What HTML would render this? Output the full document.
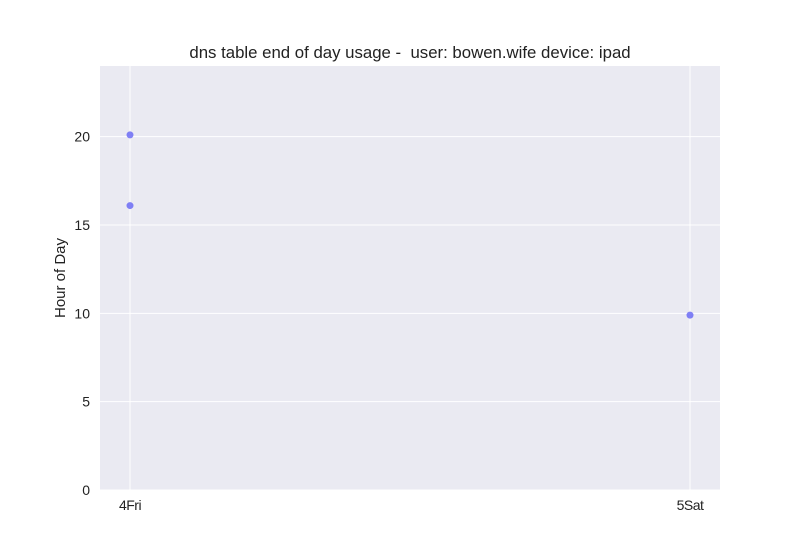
<!DOCTYPE html>
<html><head><meta charset="utf-8"><style>
body{margin:0;background:#fff;}
svg{display:block;font-family:"Liberation Sans",sans-serif;}
text{white-space:pre;}
</style></head><body>
<svg id="chart" width="800" height="550">
<rect x="0" y="0" width="800" height="550" fill="#fff"/>
<rect x="100" y="66" width="620" height="424" fill="#eaeaf2"/>
<g id="grid"></g>
<g id="marks"></g>
<text x="410" y="58" text-anchor="middle" font-size="16.8" fill="#222">dns table end of day usage -  user: bowen.wife device: ipad</text>
<text transform="translate(65,278) rotate(-90)" text-anchor="middle" font-size="15" fill="#222">Hour of Day</text>
</svg>
<script>
const categories = ["4Fri", "5Sat"];
const pointCats = ["4Fri", "4Fri", "5Sat"];
const pointHours = [20.1, 16.1, 9.9];
const yTicks = [0, 5, 10, 15, 20];
const yMax = 24;
const ns = "http://www.w3.org/2000/svg";
const x = c => 130 + categories.indexOf(c) * 560;
const y = v => 490 - v / yMax * 424;
const grid = document.getElementById('grid');
const marks = document.getElementById('marks');
function mk(tag, attrs, parent){const e=document.createElementNS(ns,tag);for(const k in attrs)e.setAttribute(k,attrs[k]);parent.appendChild(e);return e;}
yTicks.forEach(t=>{
  const l=mk('line',{x1:100,x2:720,y1:y(t),y2:y(t),stroke:'#fff','stroke-width':1},grid);
  
  
  const tx=mk('text',{x:90,y:y(t)+5,'text-anchor':'end','font-size':14,fill:'#222'},grid);
  tx.textContent=t;
  
  
});
categories.forEach(c=>{
  const l=mk('line',{x1:x(c),x2:x(c),y1:66,y2:490,stroke:'#fff','stroke-width':1},grid);
  
  
  const tx=mk('text',{x:x(c),y:510,'text-anchor':'middle','font-size':14,fill:'#222','letter-spacing':'-0.5'},grid);
  tx.textContent=c;
  
  
});
pointHours.forEach((v,i)=>{
  const p=mk('circle',{cx:x(pointCats[i]),cy:y(v),r:3.5,fill:'#6b6bf5','fill-opacity':0.85},marks);
  
  
});
</script>
</body></html>
